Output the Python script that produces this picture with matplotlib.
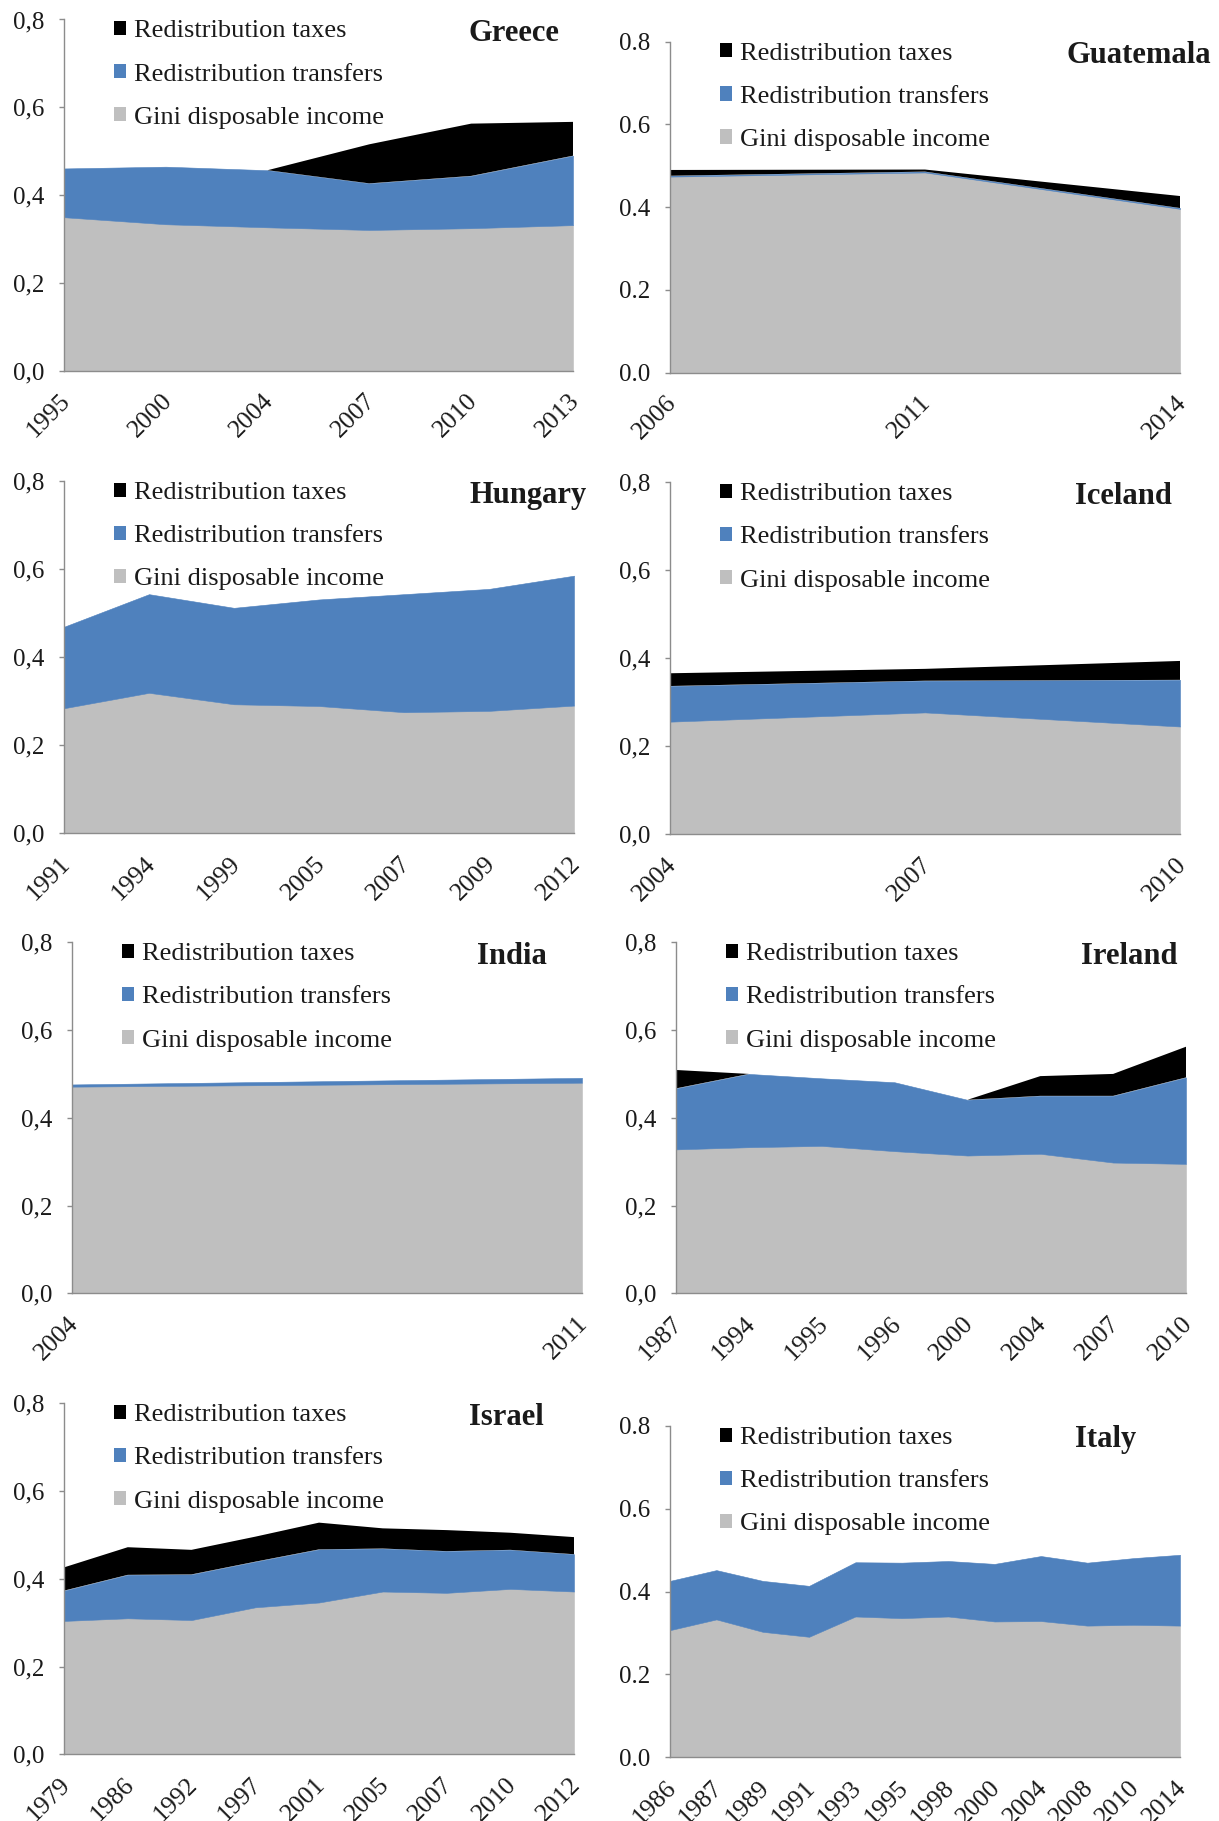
import matplotlib
matplotlib.use("Agg")
import matplotlib.pyplot as plt
from matplotlib.patches import Patch
from matplotlib.ticker import FuncFormatter
from matplotlib.transforms import offset_copy, ScaledTranslation

plt.rcParams['font.family'] = ['Liberation Serif', 'DejaVu Serif']

# ---------------- data ----------------
greece_years = ["1995", "2000", "2004", "2007", "2010", "2013"]
greece_gini = [0.350, 0.334, 0.327, 0.321, 0.325, 0.332]
greece_transfers = [0.111, 0.131, 0.130, 0.106, 0.119, 0.158]
greece_taxes = [0.0, 0.0, 0.0, 0.089, 0.119, 0.077]

guatemala_years = ["2006", "2011", "2014"]
guatemala_gini = [0.474, 0.484, 0.396]
guatemala_transfers = [0.002, 0.002, 0.002]
guatemala_taxes = [0.014, 0.005, 0.029]

hungary_years = ["1991", "1994", "1999", "2005", "2007", "2009", "2012"]
hungary_gini = [0.284, 0.319, 0.293, 0.289, 0.275, 0.278, 0.290]
hungary_transfers = [0.185, 0.224, 0.219, 0.242, 0.268, 0.277, 0.295]
hungary_taxes = [0.0, 0.0, 0.0, 0.0, 0.0, 0.0, 0.0]

iceland_years = ["2004", "2007", "2010"]
iceland_gini = [0.256, 0.277, 0.245]
iceland_transfers = [0.081, 0.072, 0.106]
iceland_taxes = [0.029, 0.027, 0.043]

india_years = ["2004", "2011"]
india_gini = [0.471, 0.480]
india_transfers = [0.005, 0.011]
india_taxes = [0.0, 0.0]

ireland_years = ["1987", "1994", "1995", "1996", "2000", "2004", "2007", "2010"]
ireland_gini = [0.328, 0.333, 0.336, 0.324, 0.314, 0.318, 0.298, 0.295]
ireland_transfers = [0.139, 0.167, 0.154, 0.157, 0.127, 0.132, 0.152, 0.197]
ireland_taxes = [0.042, 0.0, 0.0, 0.0, 0.0, 0.045, 0.050, 0.070]

israel_years = ["1979", "1986", "1992", "1997", "2001", "2005", "2007", "2010", "2012"]
israel_gini = [0.304, 0.310, 0.306, 0.335, 0.346, 0.371, 0.368, 0.377, 0.371]
israel_transfers = [0.069, 0.099, 0.104, 0.104, 0.121, 0.098, 0.095, 0.089, 0.085]
israel_taxes = [0.053, 0.063, 0.056, 0.057, 0.061, 0.046, 0.048, 0.039, 0.039]

italy_years = ["1986", "1987", "1989", "1991", "1993", "1995", "1998", "2000",
               "2004", "2008", "2010", "2014"]
italy_gini = [0.307, 0.333, 0.303, 0.291, 0.340, 0.336, 0.340, 0.328, 0.329, 0.318, 0.320, 0.318]
italy_transfers = [0.119, 0.119, 0.123, 0.123, 0.131, 0.134, 0.134, 0.139, 0.157, 0.152, 0.161, 0.171]
italy_taxes = [0.0] * 12

series_labels = ["Redistribution taxes", "Redistribution transfers", "Gini disposable income"]
y_ticks = [0.0, 0.2, 0.4, 0.6, 0.8]

# ---------------- layout / style ----------------
W, H = 1219, 1821
fig = plt.figure(figsize=(W / 100, H / 100), dpi=100)

GRAY = "#BFBFBF"
BLUE = "#4F81BD"
BLACK = "#000000"
AXIS = "#8C8C8C"
TXT = "#1A1A1A"

panels = [
    ("Greece", greece_years, greece_gini, greece_transfers, greece_taxes, (64, 19.5, 573, 371), ",", 405),
    ("Guatemala", guatemala_years, guatemala_gini, guatemala_transfers, guatemala_taxes, (670, 41.7, 1180, 372.7), ".", 396),
    ("Hungary", hungary_years, hungary_gini, hungary_transfers, hungary_taxes, (64, 481, 574, 833.3), ",", 405),
    ("Iceland", iceland_years, iceland_gini, iceland_transfers, iceland_taxes, (670, 482.3, 1180, 834.3), ",", 405),
    ("India", india_years, india_gini, india_transfers, india_taxes, (72, 942.3, 582, 1293.3), ",", 405),
    ("Ireland", ireland_years, ireland_gini, ireland_transfers, ireland_taxes, (676, 942.3, 1186, 1293.3), ",", 405),
    ("Israel", israel_years, israel_gini, israel_transfers, israel_taxes, (64, 1403.3, 574, 1754.3), ",", 405),
    ("Italy", italy_years, italy_gini, italy_transfers, italy_taxes, (670, 1426, 1180, 1757.3), ".", 405),
]

px = 0.72  # points per pixel at dpi 100

for name, years, gini, transfers, taxes, box, dec, title_dx in panels:
    x0, y0, x1, y1 = box
    ax = fig.add_axes([x0 / W, 1 - y1 / H, (x1 - x0) / W, (y1 - y0) / H])
    xs = list(range(len(years)))
    polys = ax.stackplot(xs, gini, transfers, taxes, colors=[GRAY, BLUE, BLACK], linewidth=0)
    for p, c in zip(polys[:2], [GRAY, BLUE]):
        p.set_edgecolor(c)
        p.set_linewidth(0.4)
    ax.set_xlim(0, len(years) - 1)
    ax.set_ylim(0, 0.8)
    ax.set_yticks(y_ticks)
    ax.yaxis.set_major_formatter(FuncFormatter(lambda v, p, d=dec: f"{v:.1f}".replace(".", d)))
    for s in ["top", "right"]:
        ax.spines[s].set_visible(False)
    for s in ["left", "bottom"]:
        ax.spines[s].set_color(AXIS)
        ax.spines[s].set_linewidth(1.0)
    ax.tick_params(axis="y", length=5 * px, width=1, color=AXIS, pad=15 * px,
                   labelsize=18, labelcolor=TXT)
    ax.tick_params(axis="x", length=0, pad=19 * px, labelsize=18.5, labelcolor=TXT)
    ax.set_xticks(xs)
    ax.set_xticklabels(years, rotation=45, ha="right", va="top", rotation_mode="anchor")
    shift = ScaledTranslation(-5 / 100, 0, fig.dpi_scale_trans)
    for lab in ax.get_xticklabels():
        lab.set_transform(lab.get_transform() + shift)

    handles = [Patch(facecolor=BLACK, label=series_labels[0]),
               Patch(facecolor=BLUE, label=series_labels[1]),
               Patch(facecolor=GRAY, label=series_labels[2])]
    ax.legend(handles=handles, loc="upper left", bbox_to_anchor=(0, 1),
              bbox_transform=offset_copy(ax.transAxes, fig=fig, x=50, y=-1, units="dots"),
              frameon=False, borderpad=0, borderaxespad=0, fontsize=19,
              handlelength=0.45, handleheight=0.45, handletextpad=0.32,
              labelspacing=0.8, labelcolor=TXT)

    ax.annotate(name, xy=(0, 1), xycoords="axes fraction", xytext=(title_dx, -14),
                textcoords="offset pixels", ha="left", va="center",
                fontsize=22, fontweight="bold", color=TXT, annotation_clip=False)

fig.savefig("out.png", dpi=100)
